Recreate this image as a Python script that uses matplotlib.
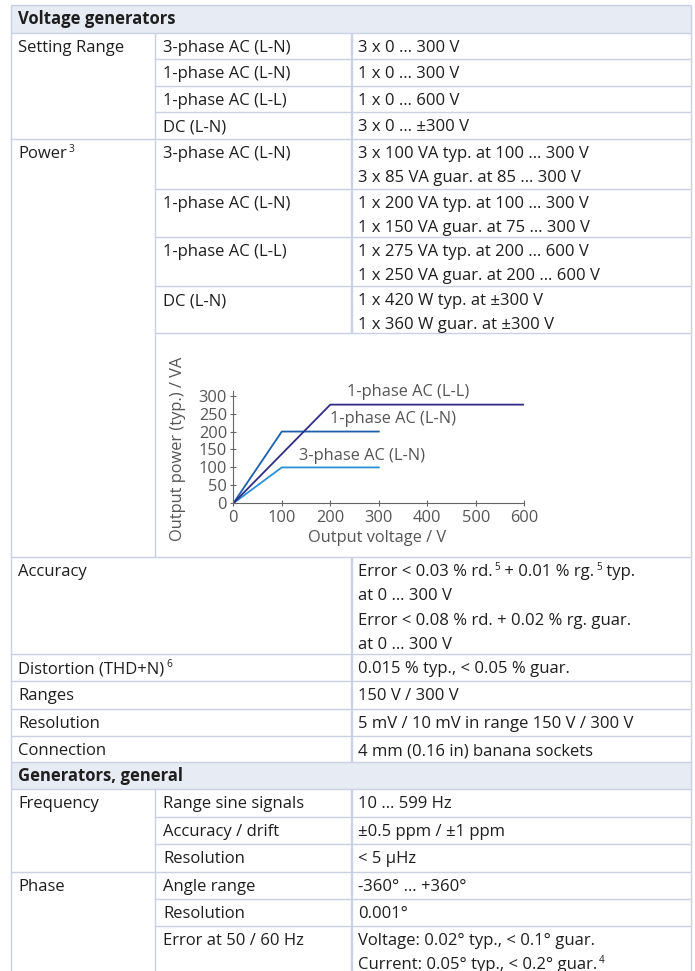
import matplotlib.pyplot as plt

plt.rcParams['font.family'] = ['Open Sans', 'DejaVu Sans']

W, H = 695, 971
TEXT = '#1e1e1e'
GRID = '#c9d1e3'
HEAD_BG = '#e7ebf3'
FS = 12

# ---- table content ----
section_titles = ["Voltage generators", "Generators, general"]
modes = ["3-phase AC (L-N)", "1-phase AC (L-N)", "1-phase AC (L-L)", "DC (L-N)"]
setting_values = ["3 x 0 … 300 V", "1 x 0 … 300 V", "1 x 0 … 600 V", "3 x 0 … ±300 V"]
power_values = [
    ["3 x 100 VA typ. at 100 … 300 V", "3 x 85 VA guar. at 85 … 300 V"],
    ["1 x 200 VA typ. at 100 … 300 V", "1 x 150 VA guar. at 75 … 300 V"],
    ["1 x 275 VA typ. at 200 … 600 V", "1 x 250 VA guar. at 200 … 600 V"],
    ["1 x 420 W typ. at ±300 V", "1 x 360 W guar. at ±300 V"],
]
accuracy_lines = ["Error < 0.03 % rd.^5 + 0.01 % rg.^5 typ.", "at 0 … 300 V",
                  "Error < 0.08 % rd. + 0.02 % rg. guar.", "at 0 … 300 V"]
single_params = ["Distortion (THD+N)^6", "Ranges", "Resolution", "Connection"]
single_values = ["0.015 % typ., < 0.05 % guar.", "150 V / 300 V",
                 "5 mV / 10 mV in range 150 V / 300 V", "4 mm (0.16 in) banana sockets"]
freq_items = ["Range sine signals", "Accuracy / drift", "Resolution"]
freq_values = [["10 … 599 Hz"], ["±0.5 ppm / ±1 ppm"], ["< 5 µHz"]]
phase_items = ["Angle range", "Resolution", "Error at 50 / 60 Hz"]
phase_values = [["-360° … +360°"], ["0.001°"],
                ["Voltage: 0.02° typ., < 0.1° guar.", "Current: 0.05° typ., < 0.2° guar.^4"]]

# ---- curve data (output voltage / V vs output power / VA) ----
volt_3ph_ln = [0, 100, 300]
pow_3ph_ln = [0, 100, 100]
volt_1ph_ln = [0, 100, 300]
pow_1ph_ln = [0, 200, 200]
volt_1ph_ll = [0, 200, 600]
pow_1ph_ll = [0, 275, 275]
curve_names = ["3-phase AC (L-N)", "1-phase AC (L-N)", "1-phase AC (L-L)"]
curve_colors = ['#2a8fd6', '#1c5fab', '#2f2b86']

fig = plt.figure(figsize=(W / 100, H / 100), dpi=100)
ax = fig.add_axes([0, 0, 1, 1])
ax.set_xlim(0, W)
ax.set_ylim(H, 0)
ax.axis('off')
renderer = fig.canvas.get_renderer()

L, R = 10.5, 690.5
C1, C2 = 155, 352
X0, X1, X2 = 18, 163, 358
LINE_H = 24.3
BASE = 19


def hline(y, x0=L, x1=R):
    ax.plot([x0, x1], [y, y], color=GRID, lw=1.0, solid_capstyle='butt')


def vline(x, y0, y1, lw=1.0):
    ax.plot([x, x], [y0, y1], color=GRID, lw=lw, solid_capstyle='butt')


def rich(x, y, s, bold=False):
    # text with ^n superscripts, baseline at y
    parts = s.split('^')
    w = 'bold' if bold else 'normal'
    t = ax.text(x, y, parts[0], fontsize=FS, color=TEXT, va='baseline', fontweight=w)
    xc = x + t.get_window_extent(renderer).width
    for p in parts[1:]:
        sup, rest = p[0], p[1:]
        xc += 2
        t = ax.text(xc, y - 6, sup, fontsize=FS * 0.6, color=TEXT, va='baseline')
        xc += t.get_window_extent(renderer).width
        if rest:
            t = ax.text(xc, y, rest, fontsize=FS, color=TEXT, va='baseline')
            xc += t.get_window_extent(renderer).width


def cell(x, top, lines):
    for i, s in enumerate(lines):
        rich(x, top + BASE + i * LINE_H, s)


def header(top, bottom, title):
    ax.add_patch(plt.Rectangle((L, top), R - L, bottom - top, color=HEAD_BG, lw=0))
    hline(top)
    hline(bottom)
    rich(X0, top + 19, title, bold=True)


# Voltage generators
header(5.5, 33, section_titles[0])

# Setting Range
set_rows = [33, 59, 86, 112, 139]
rich(X0, set_rows[0] + BASE, "Setting Range")
for i, (m, v) in enumerate(zip(modes, setting_values)):
    cell(X1, set_rows[i], [m])
    cell(X2, set_rows[i], [v])
    if i > 0:
        hline(set_rows[i], C1)
hline(set_rows[-1])

# Power
pow_rows = [139, 189, 237, 286, 333]
rich(X0, pow_rows[0] + BASE, "Power^3")
for i, (m, v) in enumerate(zip(modes, power_values)):
    cell(X1, pow_rows[i], [m])
    cell(X2, pow_rows[i], v)
    if i > 0:
        hline(pow_rows[i], C1)
hline(pow_rows[-1], C1)
chart_bottom = 557

vline(C1, 33, chart_bottom)
vline(C2, 33, pow_rows[-1], lw=1.7)

# Accuracy and single rows
acc_rows = [557, 654, 681, 709, 736, 762]
hline(acc_rows[0])
rich(X0, acc_rows[0] + BASE, "Accuracy")
cell(X2, acc_rows[0], accuracy_lines)
for i, (p, v) in enumerate(zip(single_params, single_values)):
    top = acc_rows[i + 1]
    hline(top)
    rich(X0, top + BASE, p)
    cell(X2, top, [v])
vline(C2, acc_rows[0], acc_rows[-1], lw=1.7)

# Generators, general
header(762, 789, section_titles[1])

freq_rows = [789, 817, 844, 872]
rich(X0, freq_rows[0] + BASE, "Frequency")
for i, (m, v) in enumerate(zip(freq_items, freq_values)):
    cell(X1, freq_rows[i], [m])
    cell(X2, freq_rows[i], v)
    if i > 0:
        hline(freq_rows[i], C1)
hline(freq_rows[-1])

ph_rows = [872, 899, 926, 990]
rich(X0, ph_rows[0] + BASE, "Phase")
for i, (m, v) in enumerate(zip(phase_items, phase_values)):
    cell(X1, ph_rows[i], [m])
    cell(X2, ph_rows[i], v)
    if i > 0:
        hline(ph_rows[i], C1)

vline(C1, 789, H)
vline(C2, 789, H, lw=1.7)

# outer border
vline(L, 5.5, H)
vline(R, 5.5, H)

# ---- embedded chart ----
GRAY = '#555555'
CFS = 11.8
cx = fig.add_axes([233.3 / W, 1 - 503.3 / H, 291 / W, 112.3 / H])
cx.patch.set_alpha(0)
cx.plot(volt_3ph_ln, pow_3ph_ln, color=curve_colors[0], lw=1.3)
cx.plot(volt_1ph_ln, pow_1ph_ln, color=curve_colors[1], lw=1.3)
cx.plot(volt_1ph_ll, pow_1ph_ll, color=curve_colors[2], lw=1.3)
cx.set_xlim(0, 600)
cx.set_ylim(0, 313)
cx.set_xticks([0, 100, 200, 300, 400, 500, 600])
cx.set_yticks([0, 50, 100, 150, 200, 250, 300])
for s in ['top', 'right']:
    cx.spines[s].set_visible(False)
for s in ['left', 'bottom']:
    cx.spines[s].set_color('#666666')
    cx.spines[s].set_linewidth(0.8)
cx.tick_params(direction='inout', length=5, width=0.8, color='#666666',
               labelsize=CFS, labelcolor=GRAY, pad=2)

cx.text(-0.19, 0.484, "Output power (typ.) / VA", transform=cx.transAxes, rotation=90,
        ha='center', va='center', fontsize=CFS, color=GRAY)
cx.text(0.493, -0.309, "Output voltage / V", transform=cx.transAxes,
        ha='center', va='center', fontsize=CFS, color=GRAY)

cx.text(361, 311, curve_names[2], ha='center', va='center', fontsize=CFS, color=GRAY,
        clip_on=False)
cx.text(330, 234, curve_names[1], ha='center', va='center', fontsize=CFS, color=GRAY)
cx.text(265, 132, curve_names[0], ha='center', va='center', fontsize=CFS, color=GRAY)

fig.savefig('out.png', dpi=100)
